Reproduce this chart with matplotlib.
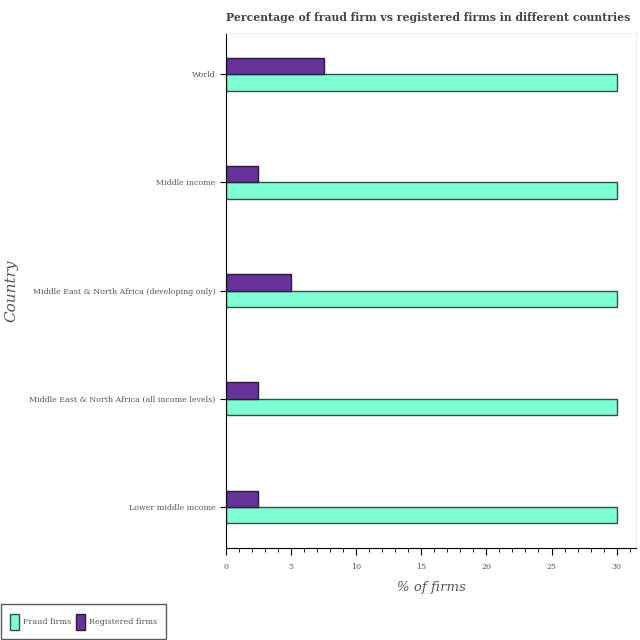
import numpy as np
import matplotlib
matplotlib.use('Agg')
import matplotlib.pyplot as plt
from matplotlib.ticker import MultipleLocator

countries = ['Lower middle income',
             'Middle East & North Africa (all income levels)',
             'Middle East & North Africa (developing only)',
             'Middle income',
             'World']
fraud = [30, 30, 30, 30, 30]
registered = [2.5, 2.5, 5, 2.5, 7.5]

plt.rcParams['font.family'] = 'DejaVu Serif'

fig = plt.figure(figsize=(6.4, 6.4), dpi=100)
ax = fig.add_axes([0.353, 0.144, 0.641, 0.804])

y = np.arange(len(countries))
h = 0.15
ax.barh(y - h / 2, fraud, height=h, color='#7FFFD4', edgecolor='#2f4f4f',
        linewidth=1, label='Fraud firms')
ax.barh(y + h / 2, registered, height=h, color='#663399', edgecolor='#2a1a40',
        linewidth=1, label='Registered firms')

ax.set_yticks(y)
ax.set_yticklabels(countries)
ax.set_ylim(-0.38, len(countries) - 1 + 0.38)
ax.set_xlim(0, 31.5)
ax.xaxis.set_major_locator(MultipleLocator(5))
ax.xaxis.set_minor_locator(MultipleLocator(1))
ax.tick_params(axis='both', labelsize=5.7, labelcolor='#555555')
ax.tick_params(axis='x', which='major', length=5, pad=6)
ax.tick_params(axis='x', which='minor', length=3)
ax.tick_params(axis='y', length=4)

for s in ['top', 'right']:
    ax.spines[s].set_color('#eeeeee')

ax.set_title('Percentage of fraud firm vs registered firms in different countries',
             fontsize=7.8, fontweight='bold', color='#444444', loc='left', pad=9)
ax.set_xlabel('% of firms', fontsize=9.5, style='italic', color='#555555',
              labelpad=7)
fig.text(0.018, 0.546, 'Country', rotation=90, fontsize=11, style='italic',
         color='#555555', va='center', ha='center')

leg = fig.legend(loc='lower left', bbox_to_anchor=(0.0, 0.0), ncol=2,
                 fontsize=5.8, fancybox=False, edgecolor='#333333',
                 handlelength=1.1, handleheight=2.6, columnspacing=0.5,
                 handletextpad=0.5, borderpad=1.2, borderaxespad=0.1,
                 labelcolor='#555555')
leg.get_frame().set_linewidth(1)

fig.savefig('out.png', dpi=100)
